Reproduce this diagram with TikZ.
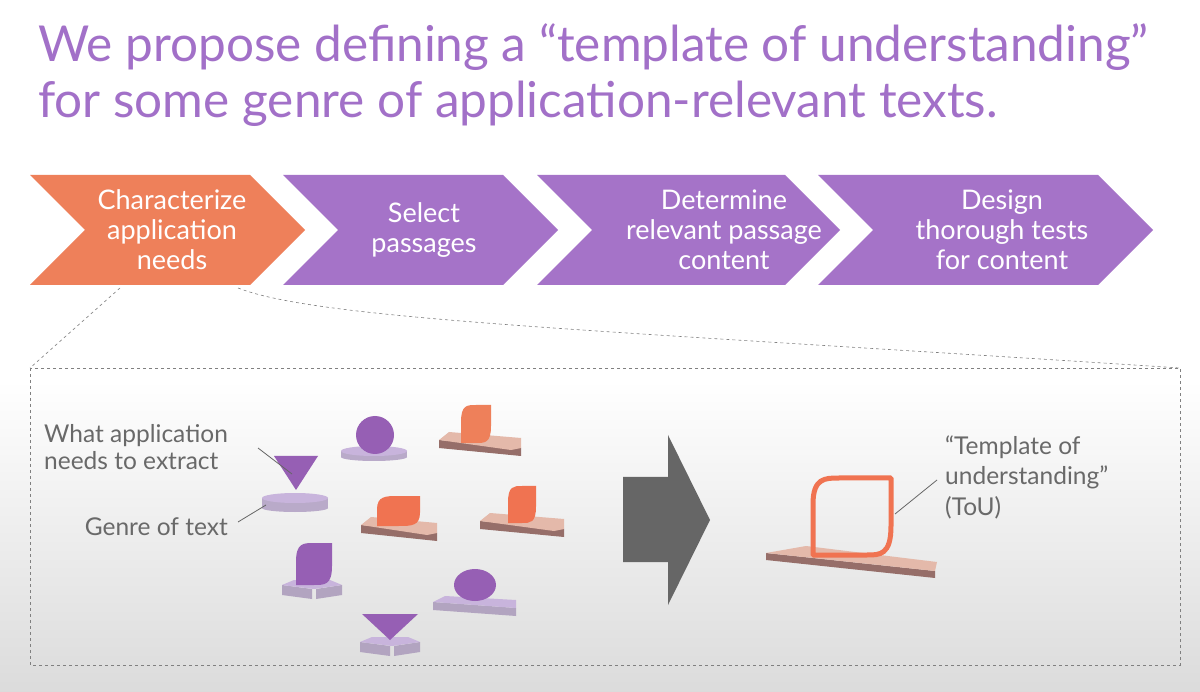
\documentclass[tikz,border=0pt]{standalone}
\usepackage{fontspec}
\setmainfont{Lato}
\begin{document}
\begin{tikzpicture}[x=1pt,y=-1pt]
\definecolor{pur}{RGB}{162,112,200}
\definecolor{chp}{RGB}{165,115,200}
\definecolor{ora}{RGB}{238,128,90}
\definecolor{dpur}{RGB}{150,95,180}
\definecolor{lpur}{RGB}{200,180,220}
\definecolor{plate}{RGB}{228,185,170}
\definecolor{platee}{RGB}{150,110,105}
\definecolor{txt}{RGB}{105,105,105}
\tikzset{
 chev/.style={draw=none},
 ctext/.style={text=white,font=\fontsize{27}{30}\selectfont,align=center},
 lbl/.style={text=txt,font=\fontsize{24.5}{28}\selectfont,align=left,inner sep=0},
 lead/.style={draw=gray!80!black,line width=0.8pt},
}
\useasboundingbox (0,0) rectangle (1200,692);
\fill[white] (0,0) rectangle (1200,380);
\shade[top color=white,bottom color=black!14] (0,380) rectangle (1200,692);
% title
\node[anchor=base west,text=pur,font=\fontsize{49.5}{56}\selectfont,inner sep=0] (t1) at (38,62) {We propose defining a “template of understanding”};
\node[anchor=base west,text=pur,font=\fontsize{49.5}{56}\selectfont,inner sep=0] (t2) at (38,118) {for some genre of application-relevant texts.};
% chevrons
\foreach \L/\R/\c in {30/250/ora,283/503/chp,537/785/chp,818/1098/chp}{
  \fill[\c] (\L,175) -- (\R,175) -- (\R+55,230) -- (\R,285) -- (\L,285) -- (\L+55,230) -- cycle;
}
\node[ctext] (n1) at (172,230) {Characterize\\application\\needs};
\node[ctext] (n2) at (424,230) {Select\\passages};
\node[ctext] (n3) at (724,230) {Determine\\relevant passage\\content};
\node[ctext] (n4) at (1002,230) {Design\\thorough tests\\for content};
% zoom box
\coordinate (z1) at (120,288);
\coordinate (z2) at (238,288);
\coordinate (b1) at (30,368);
\coordinate (b2) at (1180,368);
\draw[gray,dashed,line width=0.6pt] (30,368) rectangle (1180,665);
\draw[gray,dashed,line width=0.6pt] (z1) -- (b1);
\draw[gray,dashed,line width=0.6pt] (z2) .. controls (320,320) and (600,330) .. (b2);
% labels
\node[lbl,anchor=base west] (lw) at (44,443) {What application};
\node[lbl,anchor=base west] (lw2) at (44,470) {needs to extract};
\node[lbl,anchor=base east] (lg) at (228,535) {Genre of text};
% shapes: disc + triangle
\fill[lpur!80!gray] (262,498) rectangle (328,508);
\fill[lpur!80!gray] (295,508) ellipse (33 and 4);
\fill[lpur] (295,498) ellipse (33 and 5);
\fill[dpur] (274,456) -- (318,456) -- (296,490) -- cycle;
\coordinate (tri) at (292,474);
\coordinate (disc) at (266,505);
\draw[lead] (258,448) -- (tri);
\draw[lead] (238,522) -- (disc);
% disc + circle
\fill[lpur!80!gray] (341,451) rectangle (407,457);
\fill[lpur!80!gray] (374,457) ellipse (33 and 4);
\fill[lpur] (374,451) ellipse (33 and 5);
\fill[dpur] (375,435) circle (19);
% plates with leaves
\newcommand{\plate}[5]{%
 \fill[#5] (#1,#2) -- (#1+#3,#2+8) -- (#1+#3,#2+16) -- (#1,#2+8) -- cycle;
 \fill[#4] (#1,#2) -- (#1+10,#2-8) -- (#1+#3,#2-2) -- (#1+#3,#2+8) -- (#1+#3-10,#2+10) -- cycle;
}
\newcommand{\leaf}[5]{%
 \fill[#5] (#1,#2+#4) -- (#1,#2+#4*0.45) .. controls (#1,#2) and (#1+#3*0.2,#2) .. (#1+#3*0.5,#2) -- (#1+#3,#2) -- (#1+#3,#2+#4*0.55) .. controls (#1+#3,#2+#4) and (#1+#3*0.8,#2+#4) .. (#1+#3*0.5,#2+#4) -- cycle;
}
\plate{439}{440}{82}{plate}{platee}
\leaf{461}{405}{30}{38}{ora}
\plate{361}{525}{76}{plate}{platee}
\leaf{377}{496}{43}{30}{ora!90!red}
\plate{480}{521}{84}{plate}{platee}
\leaf{508}{486}{28}{37}{ora!90!red}
% purple cross pedestals
\newcommand{\cross}[2]{%
 \fill[lpur!70!gray] (#1,#2) -- (#1+30,#2+4) -- (#1+30,#2+14) -- (#1,#2+10) -- cycle;
 \fill[lpur!70!gray] (#1+34,#2+4) -- (#1+60,#2) -- (#1+60,#2+10) -- (#1+34,#2+14) -- cycle;
 \fill[lpur] (#1,#2) -- (#1+12,#2-5) -- (#1+48,#2-5) -- (#1+60,#2) -- (#1+32,#2+4) -- cycle;
}
\cross{282}{585}
\leaf{296}{543}{36}{42}{dpur}
\cross{360}{642}
\fill[dpur] (362,614) -- (418,614) -- (390,640) -- cycle;
\fill[lpur!70!gray] (433,602) -- (516,608) -- (516,616) -- (433,610) -- cycle;
\fill[lpur] (433,602) -- (445,596) -- (516,600) -- (516,608) -- cycle;
\fill[dpur] (475,585) ellipse (21 and 16);
% big arrow
\fill[black!60] (623,477) -- (668,477) -- (668,435) -- (710,520) -- (668,605) -- (668,562) -- (623,562) -- cycle;
% ToU
\fill[platee] (766,553) -- (935,571) -- (935,578) -- (766,560) -- cycle;
\fill[plate] (766,553) -- (806,546) -- (937,562) -- (935,571) -- cycle;
\draw[ora!90!red,line width=5pt,rounded corners=1pt] (813,555) -- (813,505) .. controls (813,478) and (825,478) .. (840,478) -- (891,478) -- (891,525) .. controls (891,555) and (880,555) .. (866,555) -- cycle;
\coordinate (tou) at (895,514);
\node[lbl,anchor=base west] (lt1) at (945,455) {“Template of};
\node[lbl,anchor=base west] (lt2) at (945,485) {understanding”};
\node[lbl,anchor=base west] (lt3) at (945,515) {(ToU)};
\draw[lead] (937,480) -- (tou);
\end{tikzpicture}
\end{document}
